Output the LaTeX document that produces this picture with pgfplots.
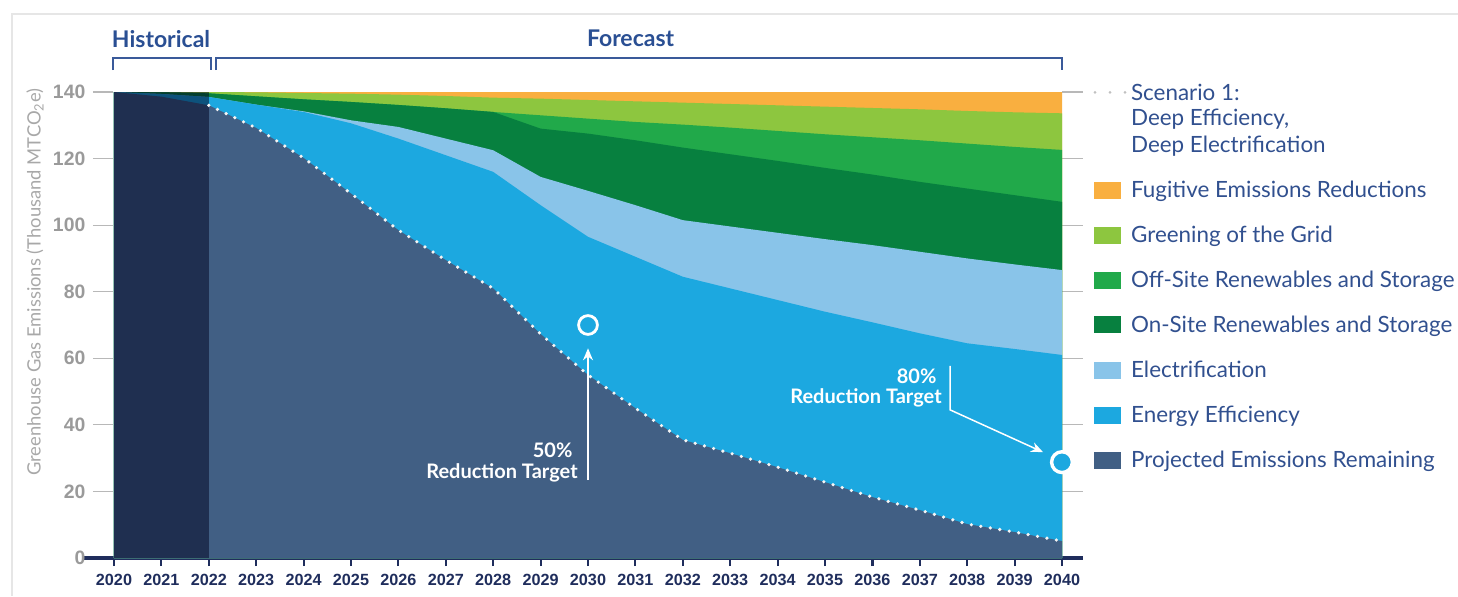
\documentclass[border=0pt]{standalone}
\usepackage{pgfplots}
\pgfplotsset{compat=1.18}
\usepackage{pgfplotstable}
\usepackage{fontspec}
\setmainfont{Lato}
\newfontfamily\tickfont{Liberation Sans}
\usetikzlibrary{arrows.meta}

\definecolor{cFug}{HTML}{F9AF40}
\definecolor{cGrid}{HTML}{8DC63F}
\definecolor{cOff}{HTML}{21A94A}
\definecolor{cOn}{HTML}{07803F}
\definecolor{cEl}{HTML}{89C4E9}
\definecolor{cEff}{HTML}{1CA8E0}
\definecolor{cProj}{HTML}{415F84}
\definecolor{cHist}{RGB}{0,4,33}
\definecolor{cAxis}{HTML}{1F2D5C}
\definecolor{cStub}{HTML}{B8B8B8}
\definecolor{cYtick}{HTML}{9A9A9A}
\definecolor{cYlab}{HTML}{A8A8A8}
\definecolor{cText}{HTML}{31508F}
\definecolor{cHead}{HTML}{2A4F93}
\definecolor{cBrack}{HTML}{3A5A9A}
\definecolor{cDot}{HTML}{C0C0C0}
\definecolor{cBorder}{HTML}{E6E6E6}

% cumulative tops of the stacked layers (bottom to top)
\pgfplotstableread{
year  c1    c2    c3    c4    c5    c6    c7
2020  140   140   140   140   140   140   140
2021  138.6 139.4 139.4 139.9 139.9 140   140
2022  136   138.5 138.5 139.6 139.6 140   140
2023  129.2 136.2 136.2 138.7 138.7 139.9 140
2024  120.2 134   134.2 137.8 137.8 139.7 140
2025  109.5 130.6 131.5 137   137   139.5 140
2026  98.5  126   129.5 136.1 136.1 139.2 140
2027  89.5  121   126   135.1 135.1 138.8 140
2028  81    116   122.5 134   134   138.3 140
2029  67.3  106   114.5 129   133   138   140
2030  55    96.5  110.3 127.5 132   137.6 140
2031  45    90.5  106   125.5 131   137.2 140
2032  35.5  84.5  101.5 123.3 130.2 136.8 140
2033  31.5  81    99.6  121.3 129.3 136.4 140
2034  27.3  77.5  97.7  119.3 128.3 136   140
2035  22.8  74    95.8  117.2 127.3 135.6 140
2036  18.3  70.8  94    115.2 126.4 135.2 140
2037  14.4  67.5  92    113   125.5 134.8 140
2038  10.2  64.5  90    111   124.5 134.3 140
2039  7.8   62.8  88.2  109   123.5 133.9 140
2040  5.1   61    86.5  107   122.6 133.6 140
}\datatab

\begin{document}
\begin{tikzpicture}
\useasboundingbox (-57pt,-19pt) rectangle (672pt,279pt);
\begin{axis}[
  at={(0,0)}, anchor=south west,
  scale only axis, width=474pt, height=233pt,
  xmin=2020, xmax=2040, ymin=0, ymax=140,
  clip=false,
  axis x line*=bottom, axis y line*=left,
  x axis line style={draw=cAxis, line width=1.6pt, -, shorten <=-15.5pt, shorten >=-10.5pt},
  y axis line style={draw=none},
  xtick={2020,2021,...,2040},
  ytick={0,20,...,140},
  tick align=outside,
  major tick length=4pt,
  xtick style={draw=cAxis, line width=1.1pt},
  ytick style={draw=none},
  /pgf/number format/1000 sep={},
  /pgf/number format/assume math mode=true,
  xticklabel style={font=\tickfont\bfseries\fontsize{8.1}{9}\selectfont, text=cAxis, yshift=-0.5pt},
  yticklabel style={font=\tickfont\bfseries\fontsize{9.7}{10}\selectfont, text=cYtick, xshift=-6.8pt},
]
\path (axis cs:2020,0) coordinate (O);
\pgfplotsinvokeforeach{20,40,...,140}{
  \draw[cStub, line width=0.6pt] ([xshift=-10.5pt]axis cs:2020,#1) -- ([xshift=-0.5pt]axis cs:2020,#1);
  \draw[cStub, line width=0.6pt] (axis cs:2040,#1) -- ([xshift=10.5pt]axis cs:2040,#1);
}
\addplot[draw=none, fill=cFug]  table[x=year,y=c7]{\datatab} \closedcycle;
\addplot[draw=none, fill=cGrid] table[x=year,y=c6]{\datatab} \closedcycle;
\addplot[draw=none, fill=cOff]  table[x=year,y=c5]{\datatab} \closedcycle;
\addplot[draw=none, fill=cOn]   table[x=year,y=c4]{\datatab} \closedcycle;
\addplot[draw=none, fill=cEl]   table[x=year,y=c3]{\datatab} \closedcycle;
\addplot[draw=none, fill=cEff]  table[x=year,y=c2]{\datatab} \closedcycle;
\addplot[draw=none, fill=cProj] table[x=year,y=c1]{\datatab} \closedcycle;
% historical shading
\fill[cHist, opacity=0.52] (axis cs:2020,0) rectangle (axis cs:2022,140);
% scenario dotted line
\addplot[white!92!gray, line width=1.8pt, dash pattern=on 0pt off 4.8pt, line cap=round,
  restrict x to domain=2022:2040] table[x=year,y=c1]{\datatab};
% targets
\addplot[only marks, mark=o, mark size=4.7pt, mark options={draw=white, line width=1.4pt}] coordinates {(2030,70)};
\addplot[only marks, mark=*, mark size=5.2pt, mark options={fill=cEff, draw=white, line width=1.7pt}] coordinates {(2040,28.8)};
\draw[white, line width=0.75pt, -{Stealth[length=6pt,width=5pt]}] (axis cs:2030,23.4) -- (axis cs:2030,63);
\draw[white, line width=0.75pt, -{Stealth[length=6pt,width=5pt]}] (axis cs:2037.64,57.7) -- (axis cs:2037.64,44.5) -- (axis cs:2039.6,31.8);
\node[anchor=east, inner sep=0, text=white, font=\bfseries\fontsize{10}{11}\selectfont] at (axis cs:2029.68,32.4) {50\%};
\node[anchor=east, inner sep=0, text=white, font=\bfseries\fontsize{10}{11}\selectfont] at (axis cs:2029.79,25.5) {Reduction Target};
\node[anchor=east, inner sep=0, text=white, font=\bfseries\fontsize{10}{11}\selectfont] at (axis cs:2037.36,54.7) {80\%};
\node[anchor=east, inner sep=0, text=white, font=\bfseries\fontsize{10}{11}\selectfont] at (axis cs:2037.47,48.1) {Reduction Target};
\end{axis}

\begin{scope}[shift={(O)}]
% card border
\draw[cBorder, line width=0.6pt] (-51pt,-19pt) -- (-51pt,272pt) -- (672pt,272pt);
% y label
\node[rotate=90, text=cYlab, font=\fontsize{9.2}{10}\selectfont] at (-39.5pt,138pt) {Greenhouse Gas Emissions (Thousand MTCO\textsubscript{2}e)};
% headings and brackets
\node[anchor=base west, inner sep=0, text=cHead, font=\bfseries\fontsize{11.5}{12}\selectfont] at (-1.2pt,255.4pt) {Historical};
\node[anchor=base, inner sep=0, text=cHead, font=\bfseries\fontsize{11.5}{12}\selectfont] at (258.3pt,255.6pt) {Forecast};
\draw[cBrack, line width=1pt] (-0.65pt,244pt) -- (-0.65pt,249.85pt) -- (48.35pt,249.85pt) -- (48.35pt,244pt);
\draw[cBrack, line width=1pt] (51pt,244pt) -- (51pt,249.85pt) -- (474pt,249.85pt) -- (474pt,244pt);
% legend
\def\lfont{\fontsize{11.2}{12}\selectfont}
\draw[cDot, line width=1.5pt, dash pattern=on 0pt off 7.5pt, line cap=round] (490.5pt,232.85pt) -- (506pt,232.85pt);
\node[anchor=base west, inner sep=0, text=cText, font=\lfont] at (508.35pt,228.9pt) {Scenario 1:};
\node[anchor=base west, inner sep=0, text=cText, font=\lfont] at (508.35pt,216.1pt) {Deep Efficiency,};
\node[anchor=base west, inner sep=0, text=cText, font=\lfont] at (508.35pt,202.6pt) {Deep Electrification};
\foreach \c/\y/\t in {cFug/184/{Fugitive Emissions Reductions},
                      cGrid/161.5/{Greening of the Grid},
                      cOff/139/{Off-Site Renewables and Storage},
                      cOn/116.65/{On-Site Renewables and Storage},
                      cEl/94/{Electrification},
                      cEff/71.5/{Energy Efficiency},
                      cProj/49/{Projected Emissions Remaining}}{
  \fill[\c] (490.15pt,\y pt-4.25pt) rectangle (503.5pt,\y pt+4.25pt);
  \node[anchor=base west, inner sep=0, text=cText, font=\lfont] at (508.35pt,\y pt-3.9pt) {\t};
}
\end{scope}
\end{tikzpicture}
\end{document}
